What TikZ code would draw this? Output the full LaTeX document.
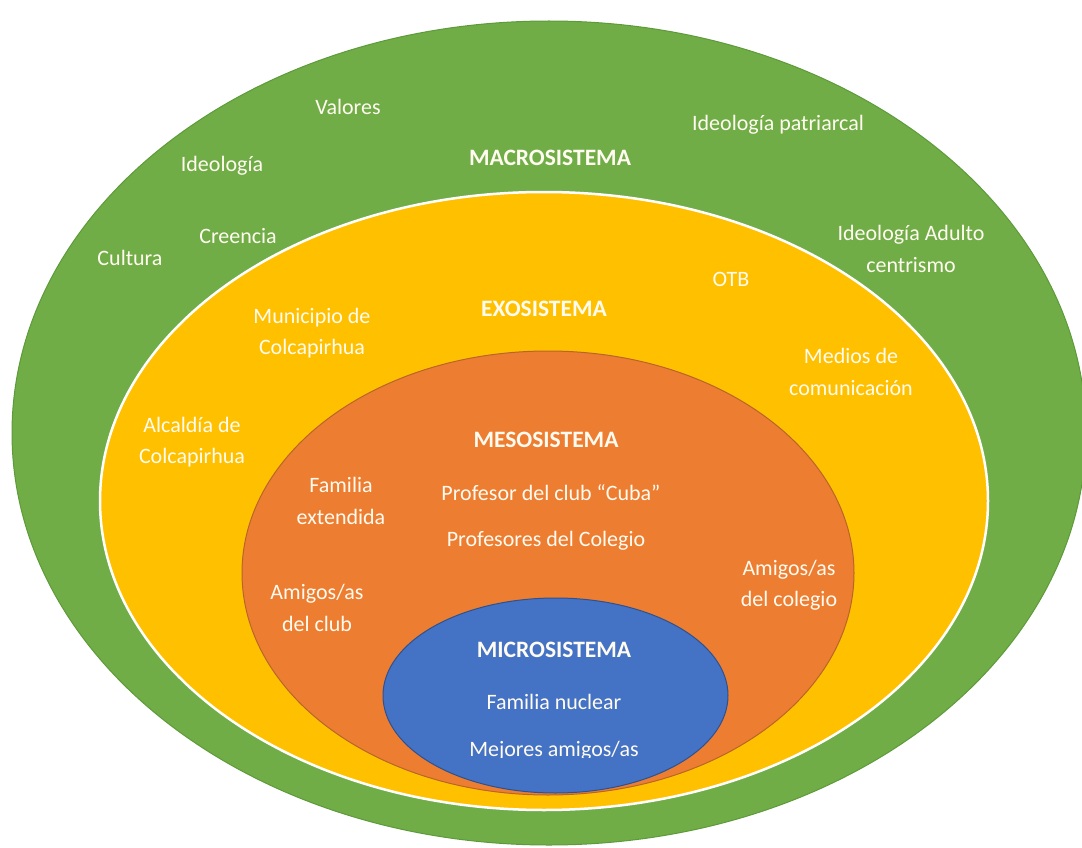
\documentclass[tikz,border=0pt]{standalone}
\usepackage{fontspec}
\setmainfont{Carlito}
\definecolor{gr}{HTML}{70AD47}
\definecolor{grb}{HTML}{5E9A3A}
\definecolor{ye}{HTML}{FFC000}
\definecolor{orr}{HTML}{ED7D31}
\definecolor{orb}{HTML}{B8652A}
\definecolor{bl}{HTML}{4472C4}
\definecolor{blb}{HTML}{2F528F}
\definecolor{tx}{HTML}{FFFBF0}
\begin{document}
\begin{tikzpicture}[x=1pt,y=-1pt,
  lbl/.style={text=tx,font=\fontsize{22}{31.5}\selectfont,align=center,inner sep=0pt},
  ttl/.style={text=tx,font=\fontsize{23.5}{31.5}\selectfont\bfseries,align=center,inner sep=0pt}]
\useasboundingbox (0,0) rectangle (1082,848);
\fill[white] (0,0) rectangle (1082,848);
\begin{scope}
\clip (0,0) rectangle (1082,848);
\draw[fill=gr,draw=grb,line width=1pt] (549,433) ellipse [x radius=537,y radius=412];
\draw[fill=ye,draw=white,line width=2.5pt] (544,501) ellipse [x radius=444,y radius=309];
\draw[fill=orr,draw=orb,line width=1pt] (548,573) ellipse [x radius=306,y radius=222];
\draw[fill=bl,draw=blb,line width=1pt] (555.5,695.5) ellipse [x radius=172.5,y radius=97.5];
\end{scope}
% macro
\node[lbl] (valores) at (348,107) {Valores};
\node[ttl] (macro) at (550,158) {MACROSISTEMA};
\node[lbl] (patri) at (778,125) {Ideología patriarcal};
\node[lbl] (ideo) at (222,166) {Ideología};
\node[lbl] (creen) at (238,236) {Creencia};
\node[lbl] (cult) at (130,258) {Cultura};
\node[lbl] (adulto) at (911,249) {Ideología Adulto\\centrismo};
% exo
\node[lbl] (otb) at (731,279) {OTB};
\node[ttl] (exo) at (544,309) {EXOSISTEMA};
\node[lbl] (muni) at (312,333) {Municipio de\\Colcapirhua};
\node[lbl] (medios) at (851,372) {Medios de\\comunicación};
\node[lbl] (alca) at (192,442) {Alcaldía de\\Colcapirhua};
% meso
\node[ttl] (meso) at (546,440) {MESOSISTEMA};
\node[lbl] (famext) at (341,501) {Familia\\extendida};
\node[lbl] (prof) at (551,493) {Profesor del club “Cuba”};
\node[lbl] (profs) at (546,541) {Profesores del Colegio};
\node[lbl] (amcol) at (789,585) {Amigos/as\\del colegio};
\node[lbl] (amclub) at (317,608) {Amigos/as\\del club};
% micro
\node[ttl] (micro) at (554,650) {MICROSISTEMA};
\node[lbl] (famnuc) at (554,702) {Familia nuclear};
\begin{scope}
\clip (400,730) rectangle (720,757.5);
\node[lbl,anchor=base] (mejores) at (554,756) {Mejores amigos/as};
\end{scope}
\end{tikzpicture}
\end{document}
